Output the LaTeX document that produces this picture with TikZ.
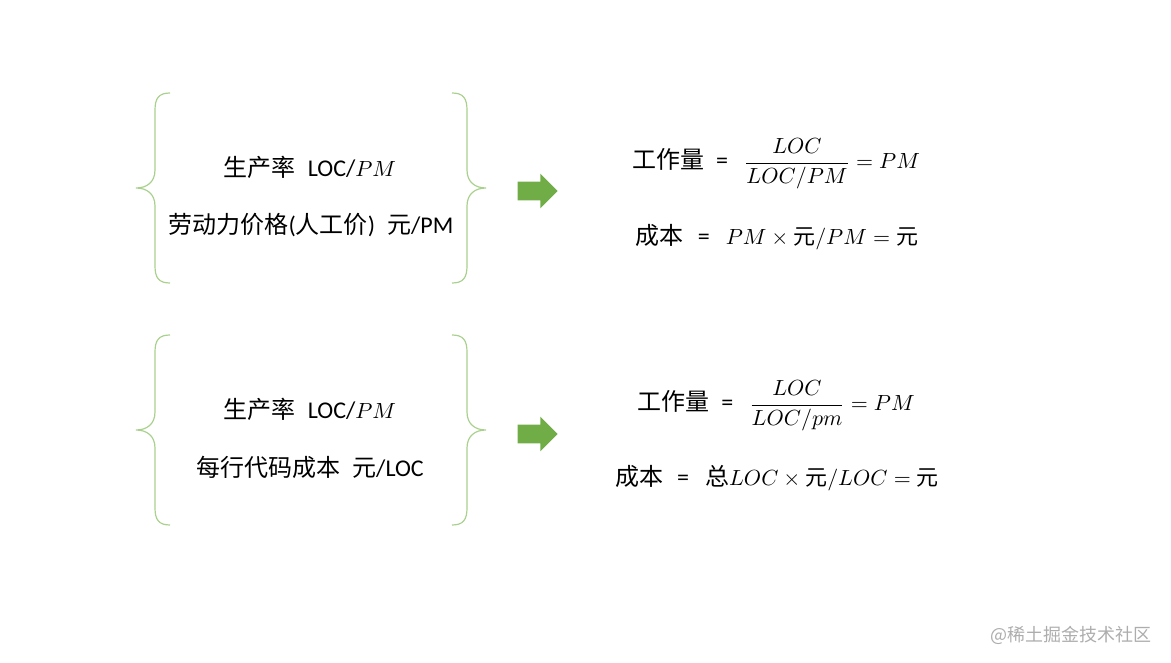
\documentclass[tikz,border=0pt]{standalone}
\usepackage{amsmath}
\usepackage{fontspec}
\setmainfont{Carlito}
\newfontfamily\cjk{Noto Sans CJK SC}
\usepackage{xcolor}
\usetikzlibrary{shapes.arrows}
\definecolor{bracegreen}{HTML}{A9D18E}
\definecolor{arrowgreen}{HTML}{70AD47}
\newcommand{\mth}[1]{{\fontsize{11}{13}\selectfont$\displaystyle #1$}}

\begin{document}
\begin{tikzpicture}[
  x=0.5pt, y=-0.5pt,
  every node/.style={font=\fontsize{12}{14}\selectfont, inner sep=1pt},
  curly/.style={draw=bracegreen, line width=0.6pt},
  blockarr/.style={single arrow, fill=arrowgreen, draw=none, inner sep=4.5pt,
                   single arrow head extend=4pt, minimum height=20pt},
  wmark/.style={font=\cjk\fontsize{9}{11}\selectfont, text=black!32},
]
  \useasboundingbox (0,0) rectangle (1171,663);

  % curly brackets round the two groups
  \foreach \dy in {0,242} {
    \draw[curly] (170,{93+\dy}) .. controls (159,{93+\dy}) and (155,{98+\dy}) .. (155,{110+\dy})
      -- (155,{170+\dy}) .. controls (155,{182+\dy}) and (147,{188+\dy}) .. (136,{188+\dy})
      .. controls (147,{188+\dy}) and (155,{194+\dy}) .. (155,{206+\dy})
      -- (155,{266+\dy}) .. controls (155,{278+\dy}) and (159,{283+\dy}) .. (170,{283+\dy});
    \draw[curly] (452,{93+\dy}) .. controls (463,{93+\dy}) and (467,{98+\dy}) .. (467,{110+\dy})
      -- (467,{170+\dy}) .. controls (467,{182+\dy}) and (475,{188+\dy}) .. (486,{188+\dy})
      .. controls (475,{188+\dy}) and (467,{194+\dy}) .. (467,{206+\dy})
      -- (467,{266+\dy}) .. controls (467,{278+\dy}) and (463,{283+\dy}) .. (452,{283+\dy});
  }

  % first group
  \node (rate1)  at (310,167) {{\cjk 生产率}\hspace{6pt}LOC/\mth{PM}};
  \node (price1) at (311,225) {{\cjk 劳动力价格}({\cjk 人工价})\hspace{6pt}{\cjk 元}/PM};
  \node[blockarr] (arr1) at (533,191) {};
  \node (work1) at (776,164) {{\cjk 工作量}\hspace{6pt}=\hspace{8pt}\mth{\frac{LOC}{LOC/PM}=PM}};
  \node (cost1) at (777,237) {{\cjk 成本}\hspace{7pt}=\hspace{8pt}\mth{PM\times\text{\cjk 元}/PM=\text{\cjk 元}}};

  % second group
  \node (rate2)  at (310,409) {{\cjk 生产率}\hspace{6pt}LOC/\mth{PM}};
  \node (line2)  at (310,467) {{\cjk 每行代码成本}\hspace{6pt}{\cjk 元}/LOC};
  \node[blockarr] (arr2) at (533,434) {};
  \node (work2) at (776,406) {{\cjk 工作量}\hspace{6pt}=\hspace{8pt}\mth{\frac{LOC}{LOC/pm}=PM}};
  \node (cost2) at (777,478) {{\cjk 成本}\hspace{7pt}=\hspace{8pt}{\cjk 总}\mth{LOC\times\text{\cjk 元}/LOC=\text{\cjk 元}}};

  \node[wmark] (wm) at (1071,635) {@稀土掘金技术社区};
\end{tikzpicture}
\end{document}
